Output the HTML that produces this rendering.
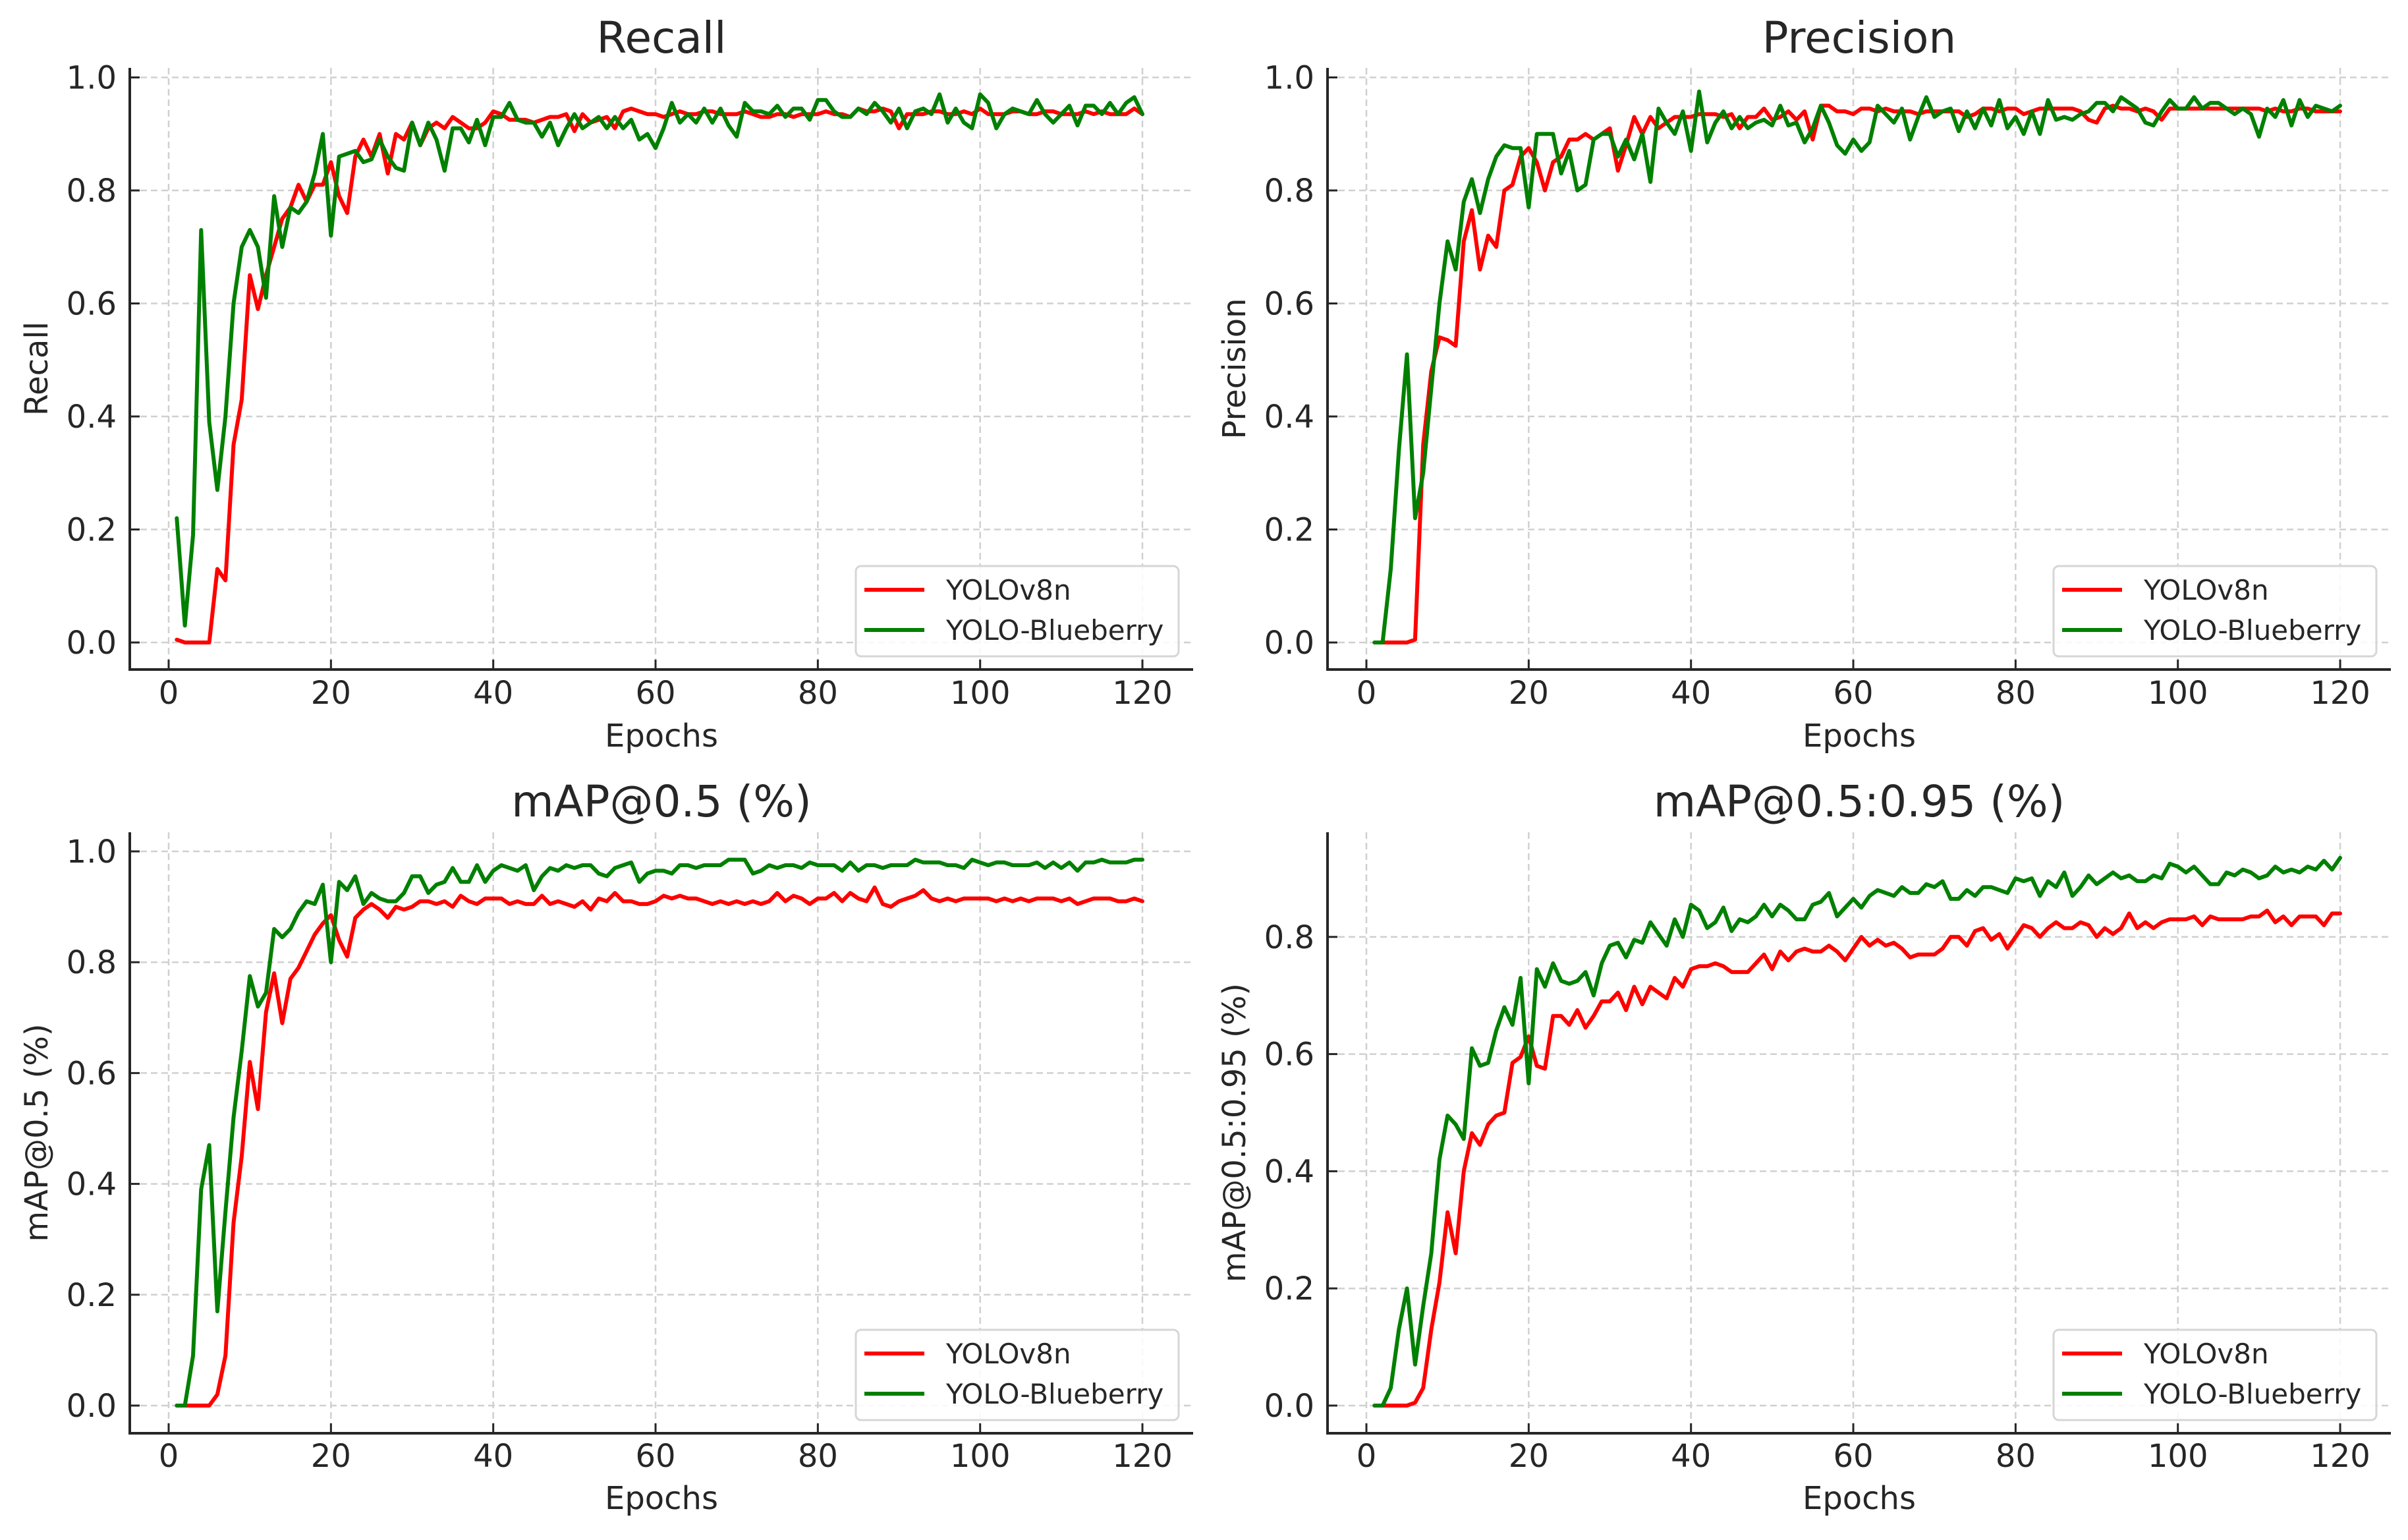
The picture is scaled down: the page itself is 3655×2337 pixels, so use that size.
<!DOCTYPE html>
<html><head><meta charset="utf-8">
<style>
html,body{margin:0;padding:0;background:#fff;}
svg{display:block;}
text{font-family:"DejaVu Sans","Liberation Sans",sans-serif;fill:#262626;}
</style></head>
<body>
<svg id="fig" xmlns="http://www.w3.org/2000/svg" width="3655" height="2337" viewBox="0 0 3655 2337"></svg>
<script>
const xTicks = [0,20,40,60,80,100,120];
const yTicksFull = [0.0,0.2,0.4,0.6,0.8,1.0];
const yTicksMap95 = [0.0,0.2,0.4,0.6,0.8];
const seriesNames = ["YOLOv8n","YOLO-Blueberry"];

const recallV8 = [0.005,0,0,0,0,0.13,0.11,0.35,0.43,0.65,0.59,0.65,0.70,0.75,0.77,0.81,0.78,0.81,0.81,0.85,
0.79,0.76,0.86,0.89,0.86,0.90,0.83,0.90,0.89,0.92,0.88,0.91,0.92,0.91,0.93,0.92,0.91,0.91,0.92,0.94,
.935,.925,.925,.925,.92,.925,.93,.93,.935,.905,.935,.92,.925,.93,.91,.94,.945,.94,.935,.935,
.93,.935,.94,.935,.935,.94,.94,.935,.935,.935,.94,.935,.93,.93,.935,.935,.93,.935,.935,.935,
.94,.935,.935,.93,.945,.94,.94,.945,.94,.91,.935,.935,.935,.94,.94,.935,.935,.94,.935,.945,
.935,.935,.935,.94,.94,.935,.935,.94,.94,.935,.935,.935,.94,.935,.94,.935,.935,.935,.945,.935];
const recallBB = [0.22,0.03,0.19,0.73,0.39,0.27,0.40,0.60,0.70,0.73,0.70,0.61,0.79,0.70,0.77,0.76,0.78,0.83,0.90,0.72,
0.86,0.865,0.87,0.85,0.855,0.89,0.86,0.84,0.835,0.92,0.88,0.92,0.89,0.835,0.91,0.91,0.885,0.925,0.88,0.93,
0.93,0.955,0.925,0.92,0.92,0.895,0.92,0.88,0.91,0.935,0.91,0.92,0.93,0.91,0.93,0.91,0.925,0.89,0.90,0.875,
.91,.955,.92,.935,.92,.945,.92,.945,.915,.895,.955,.94,.94,.935,.95,.93,.945,.945,.925,.96,
.96,.94,.93,.93,.945,.935,.955,.94,.92,.945,.91,.94,.945,.935,.97,.92,.945,.92,.91,.97,
.955,.91,.935,.945,.94,.935,.96,.935,.92,.935,.95,.915,.95,.95,.935,.955,.935,.955,.965,.935];

const precV8 = [0,0,0,0,0,0.005,0.35,0.48,0.54,0.535,0.525,0.71,0.765,0.66,0.72,0.70,0.80,0.81,0.86,0.875,
0.85,0.80,0.85,0.86,0.89,0.89,0.90,0.89,0.90,0.91,0.835,0.88,0.93,0.90,0.93,0.91,0.92,0.93,0.93,0.93,
.935,.935,.935,.93,.935,.91,.93,.93,.945,.925,.93,.94,.925,.94,.89,.95,.95,.94,.94,.935,
.945,.945,.94,.945,.94,.94,.94,.935,.94,.94,.94,.94,.94,.93,.935,.945,.945,.94,.945,.945,
.935,.94,.945,.945,.945,.945,.945,.94,.925,.92,.945,.95,.945,.945,.94,.945,.94,.925,.945,.945,
.945,.945,.945,.945,.945,.945,.945,.945,.945,.945,.94,.945,.94,.94,.945,.945,.94,.94,.94,.94];
const precBB = [0,0,0.13,0.34,0.51,0.22,0.30,0.45,0.60,0.71,0.66,0.78,0.82,0.76,0.82,0.86,0.88,0.875,0.875,0.77,
0.90,0.90,0.90,0.83,0.87,0.80,0.81,0.89,0.90,0.90,0.86,0.89,0.855,0.90,0.815,0.945,0.92,0.90,0.94,0.87,
0.975,0.885,0.92,0.94,0.91,0.93,0.91,0.92,0.925,0.915,0.95,0.915,0.92,0.885,0.91,0.95,0.92,0.88,0.865,0.89,
.87,.885,.95,.935,.92,.945,.89,.93,.965,.93,.94,.945,.905,.94,.91,.945,.915,.96,.91,.93,
.90,.94,.90,.96,.925,.93,.925,.935,.94,.955,.955,.94,.965,.955,.945,.92,.915,.94,.96,.945,
.945,.965,.945,.955,.955,.945,.935,.945,.935,.895,.945,.93,.96,.915,.96,.93,.95,.945,.94,.95];

const map50V8 = [0,0,0,0,0,0.02,0.09,0.33,0.45,0.62,0.535,0.71,0.78,0.69,0.77,0.79,0.82,0.85,0.87,0.885,
0.84,0.81,0.88,0.895,0.905,0.895,0.88,0.90,0.895,0.90,0.91,0.91,0.905,0.91,0.90,0.92,0.91,0.905,0.915,0.915,
.915,.905,.91,.905,.905,.92,.905,.91,.905,.90,.91,.895,.915,.91,.925,.91,.91,.905,.905,.91,
.92,.915,.92,.915,.915,.91,.905,.91,.905,.91,.905,.91,.905,.91,.925,.91,.92,.915,.905,.915,
.915,.925,.91,.925,.915,.91,.935,.905,.90,.91,.915,.92,.93,.915,.91,.915,.91,.915,.915,.915,
.915,.91,.915,.91,.915,.91,.915,.915,.915,.91,.915,.905,.91,.915,.915,.915,.91,.91,.915,.91];
const map50BB = [0,0,0.09,0.39,0.47,0.17,0.35,0.52,0.64,0.775,0.72,0.745,0.86,0.845,0.86,0.89,0.91,0.905,0.94,0.80,
0.945,0.93,0.955,0.905,0.925,0.915,0.91,0.91,0.925,0.955,0.955,0.925,0.94,0.945,0.97,0.945,0.945,0.975,0.945,0.965,
0.975,0.97,0.965,0.975,0.93,0.955,0.97,0.965,0.975,0.97,0.975,0.975,0.96,0.955,0.97,0.975,0.98,0.945,0.96,0.965,
.965,.96,.975,.975,.97,.975,.975,.975,.985,.985,.985,.96,.965,.975,.97,.975,.975,.97,.98,.975,
.975,.975,.965,.98,.965,.975,.975,.97,.975,.975,.975,.985,.98,.98,.98,.975,.975,.97,.985,.98,
.975,.98,.98,.975,.975,.975,.98,.97,.98,.97,.98,.965,.98,.98,.985,.98,.98,.98,.985,.985];

const map95V8 = [0,0,0,0,0,0.005,0.03,0.13,0.21,0.33,0.26,0.40,0.465,0.445,0.48,0.495,0.50,0.585,0.595,0.63,
0.58,0.575,0.665,0.665,0.65,0.675,0.645,0.665,0.69,0.69,0.705,0.675,0.715,0.685,0.715,0.705,0.695,0.73,0.715,0.745,
0.75,0.75,0.755,0.75,0.74,0.74,0.74,0.755,0.77,0.745,0.775,0.76,0.775,0.78,0.775,0.775,0.785,0.775,0.76,0.78,
0.80,0.785,0.795,0.785,0.79,0.78,0.765,0.77,0.77,0.77,0.78,0.80,0.80,0.785,0.81,0.815,0.795,0.805,0.78,0.80,
0.82,0.815,0.80,0.815,0.825,0.815,0.815,0.825,0.82,0.80,0.815,0.805,0.815,0.84,0.815,0.825,0.815,0.825,0.83,0.83,
0.83,0.835,0.82,0.835,0.83,0.83,0.83,0.83,0.835,0.835,0.845,0.825,0.835,0.82,0.835,0.835,0.835,0.82,0.84,0.84];
const map95BB = [0,0,0.03,0.13,0.20,0.07,0.17,0.26,0.42,0.495,0.48,0.455,0.61,0.58,0.585,0.64,0.68,0.65,0.73,0.55,
0.745,0.715,0.755,0.725,0.72,0.725,0.74,0.70,0.755,0.785,0.79,0.765,0.795,0.79,0.825,0.805,0.785,0.83,0.80,0.855,
0.845,0.815,0.825,0.85,0.81,0.83,0.825,0.835,0.855,0.835,0.855,0.845,0.83,0.83,0.855,0.86,0.875,0.835,0.85,0.865,
0.85,0.87,0.88,0.875,0.87,0.885,0.875,0.875,0.89,0.885,0.895,0.865,0.865,0.88,0.87,0.885,0.885,0.88,0.875,0.90,
0.895,0.90,0.87,0.895,0.885,0.91,0.87,0.885,0.905,0.89,0.90,0.91,0.90,0.905,0.895,0.895,0.905,0.90,0.925,0.92,
0.91,0.92,0.905,0.89,0.89,0.91,0.905,0.915,0.91,0.90,0.905,0.92,0.91,0.915,0.91,0.92,0.915,0.93,0.915,0.935];

const NS = "http://www.w3.org/2000/svg";
const svg = document.getElementById('fig');
function el(tag, attrs, parent){
  const e = document.createElementNS(NS, tag);
  for (const k in attrs) e.setAttribute(k, attrs[k]);
  (parent||svg).appendChild(e);
  return e;
}

const panels = [
  {key:'recall', title:'Recall', ylabel:'Recall', dx:0, y0:975, unit:857.5, top:103, bot:1016, titleY:80, xlabY:1133, tickLabY:1068, legTop:859, ticks:yTicksFull, a:recallV8, b:recallBB},
  {key:'precision', title:'Precision', ylabel:'Precision', dx:1818, y0:975, unit:857.5, top:103, bot:1016, titleY:80, xlabY:1133, tickLabY:1068, legTop:859, ticks:yTicksFull, a:precV8, b:precBB},
  {key:'map50', title:'mAP@0.5 (%)', ylabel:'mAP@0.5 (%)', dx:0, y0:2133, unit:841, top:1263, bot:2175, titleY:1239, xlabY:2290, tickLabY:2226, legTop:2018, ticks:yTicksFull, a:map50V8, b:map50BB},
  {key:'map5095', title:'mAP@0.5:0.95 (%)', ylabel:'mAP@0.5:0.95 (%)', dx:1818, y0:2133, unit:889, top:1263, bot:2175, titleY:1239, xlabY:2290, tickLabY:2226, legTop:2018, ticks:yTicksMap95, a:map95V8, b:map95BB}
];

panels.forEach(p => {
  const g = el('g', {});
  
  
  const left = 197 + p.dx, right = 1811 + p.dx;
  const xS = e => 256 + p.dx + e * 12.317;
  const yS = v => p.y0 - v * p.unit;
  xTicks.forEach(t => {
    const l = el('line', {x1:xS(t), x2:xS(t), y1:p.top, y2:p.bot, stroke:'#d0d0d0', 'stroke-width':2.5, 'stroke-dasharray':'10,6'}, g);
    
    
  });
  p.ticks.forEach(t => {
    const l = el('line', {x1:left, x2:right, y1:yS(t), y2:yS(t), stroke:'#d0d0d0', 'stroke-width':2.5, 'stroke-dasharray':'10,6'}, g);
    
    
  });
  [[p.a,'#ff0000','yolov8n'],[p.b,'#008000','yolo-blueberry']].forEach(([arr,col,nm]) => {
    const pts = arr.map((v,i) => xS(i+1).toFixed(1) + ',' + yS(v).toFixed(1)).join(' ');
    const pl = el('polyline', {points:pts, fill:'none', stroke:col, 'stroke-width':6, 'stroke-linejoin':'round', 'stroke-linecap':'round'}, g);
    
    
  });
  const sl = el('line', {x1:left, x2:left, y1:p.top, y2:p.bot+2, stroke:'#262626', 'stroke-width':4}, g);
  
  
  const sb = el('line', {x1:left-2, x2:right, y1:p.bot, y2:p.bot, stroke:'#262626', 'stroke-width':4}, g);
  
  
  xTicks.forEach(t => {
    const tk = el('line', {x1:xS(t), x2:xS(t), y1:p.bot, y2:p.bot-15, stroke:'#262626', 'stroke-width':3}, g);
    
    
    const tl = el('text', {x:xS(t), y:p.tickLabY, 'font-size':48, 'text-anchor':'middle'}, g);
    tl.textContent = String(t);
    
    
  });
  p.ticks.forEach(t => {
    const tk = el('line', {x1:left, x2:left+15, y1:yS(t), y2:yS(t), stroke:'#262626', 'stroke-width':3}, g);
    
    
    const tl = el('text', {x:left-20, y:yS(t)+17, 'font-size':48, 'text-anchor':'end'}, g);
    tl.textContent = t.toFixed(1);
    
    
  });
  const cx = (left + right) / 2;
  const ti = el('text', {x:cx, y:p.titleY, 'font-size':66, 'text-anchor':'middle', fill:'#333'}, g);
  ti.textContent = p.title;
  
  
  const xl = el('text', {x:cx, y:p.xlabY, 'font-size':48, 'text-anchor':'middle'}, g);
  xl.textContent = 'Epochs';
  
  
  const ylx = 72 + p.dx, yly = (p.top + p.bot) / 2;
  const yl = el('text', {x:ylx, y:yly, 'font-size':48, 'text-anchor':'middle', transform:'rotate(-90 '+ylx+' '+yly+')'}, g);
  yl.textContent = p.ylabel;
  
  
  const lg = el('g', {}, g);
  
  
  el('rect', {x:1299+p.dx, y:p.legTop, width:490, height:137, rx:8, fill:'rgba(255,255,255,0.85)', stroke:'#d6d6d6', 'stroke-width':3}, lg);
  [['#ff0000',0],['#008000',1]].forEach(([col,i]) => {
    const ey = p.legTop + 36 + i*61;
    const ent = el('g', {}, lg);
    
    
    el('line', {x1:1312+p.dx, x2:1403+p.dx, y1:ey, y2:ey, stroke:col, 'stroke-width':6}, ent);
    const tx = el('text', {x:1436+p.dx, y:ey+15, 'font-size':42}, ent);
    tx.textContent = seriesNames[i];
  });
});
</script>
</body></html>
